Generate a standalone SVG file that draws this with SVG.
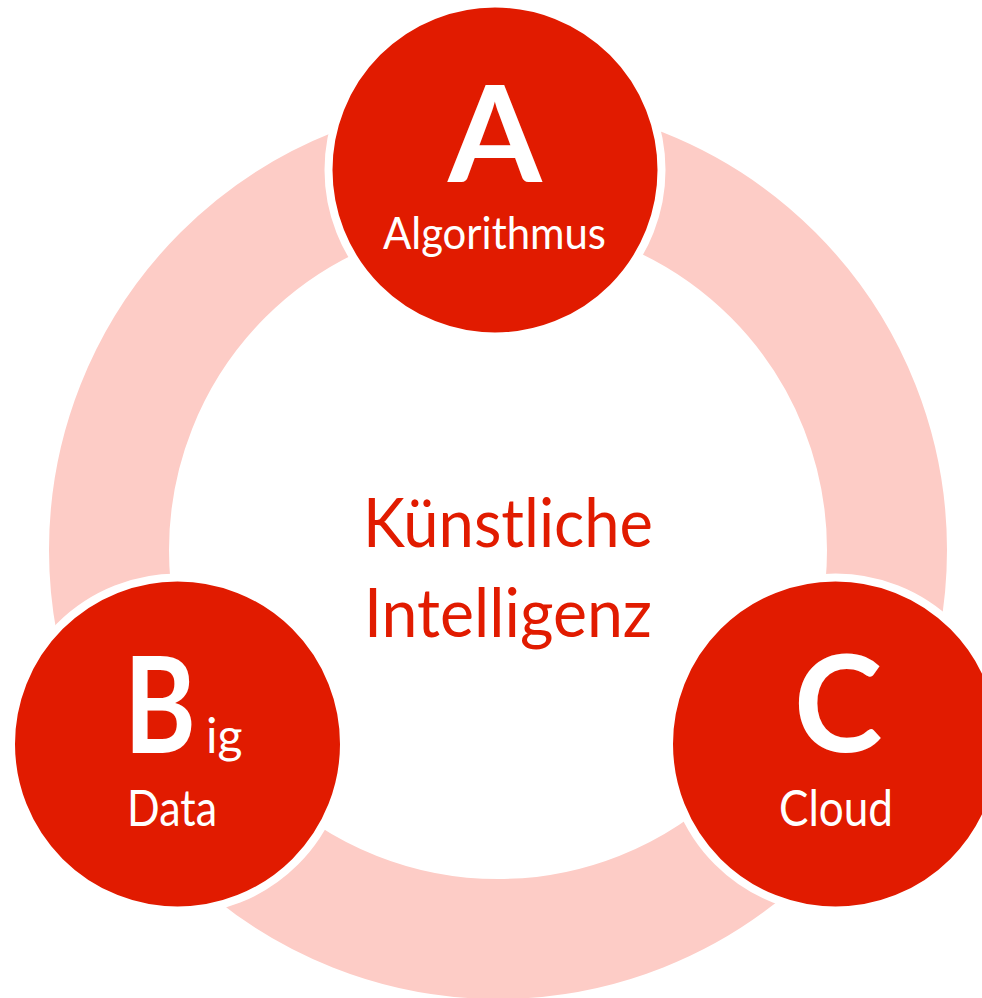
<svg xmlns="http://www.w3.org/2000/svg" width="982" height="998" viewBox="0 0 982 998">
<style>
.node circle{fill:#E11B00;stroke:#FFFFFF;stroke-width:8}
.big{font-family:Lato,"Open Sans","Liberation Sans",sans-serif;font-weight:bold;fill:#FFFFFF}
.lbl{font-family:Lato,"Open Sans","Liberation Sans",sans-serif;fill:#FFFFFF}
.mid{font-family:Lato,"Open Sans","Liberation Sans",sans-serif;fill:#E11B00}
</style>
<rect width="982" height="998" fill="#FFFFFF"/>
<g id="connectors">
<circle cx="498" cy="550" r="389" fill="none" stroke="#FDCCC6" stroke-width="120"/>
</g>
<g id="center">
<text class="mid" x="363" y="547" font-size="68" textLength="290" lengthAdjust="spacingAndGlyphs">Künstliche</text>
<text class="mid" x="364" y="637" font-size="68" textLength="288" lengthAdjust="spacingAndGlyphs">Intelligenz</text>
</g>
<g id="node-a" class="node">
<circle cx="495" cy="170" r="166.5"/>
<text class="big" x="495" y="182" font-size="135" text-anchor="middle">A</text>
<text class="lbl" x="494.5" y="249" font-size="44" text-anchor="middle" textLength="223" lengthAdjust="spacingAndGlyphs">Algorithmus</text>
</g>
<g id="node-b" class="node">
<circle cx="177.5" cy="744" r="166.5"/>
<text class="big" x="124" y="753" font-size="134" textLength="72" lengthAdjust="spacingAndGlyphs">B</text>
<text class="lbl" x="206" y="753" font-size="48">ig</text>
<text class="lbl" x="127" y="826" font-size="50" textLength="90" lengthAdjust="spacingAndGlyphs">Data</text>
</g>
<g id="node-c" class="node">
<circle cx="835.5" cy="744" r="166.5"/>
<text class="big" x="838" y="752" font-size="134" text-anchor="middle">C</text>
<text class="lbl" x="836" y="826" font-size="50" text-anchor="middle" textLength="114" lengthAdjust="spacingAndGlyphs">Cloud</text>
</g>
</svg>
